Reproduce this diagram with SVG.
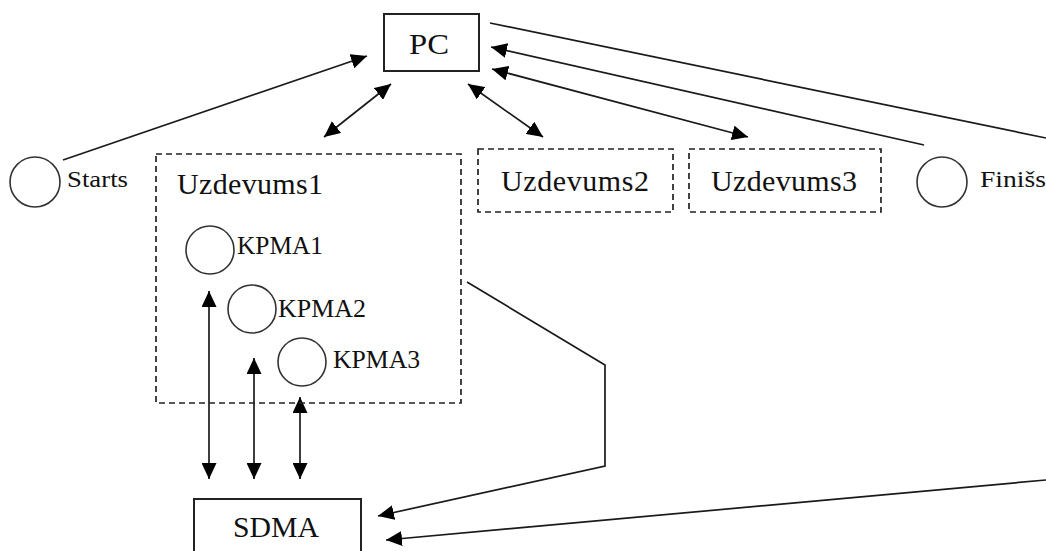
<svg xmlns="http://www.w3.org/2000/svg" width="1046" height="551" viewBox="0 0 1046 551">
<style>
.box{fill:#fff;stroke:#222;stroke-width:2}
.dbox{fill:none;stroke:#222;stroke-width:1.7;stroke-dasharray:6 4}
.circ{fill:#fff;stroke:#333;stroke-width:1.6}
.ln{fill:none;stroke:#1a1a1a;stroke-width:1.7}
.t{font-family:"Liberation Serif","Times New Roman",serif;fill:#111}
.big{font-size:30px}
.mid{font-size:26px}
.sm{font-size:23px}
</style>
<defs>
<marker id="ah" markerUnits="userSpaceOnUse" markerWidth="17" markerHeight="15" refX="16" refY="7.5" orient="auto-start-reverse" viewBox="0 0 17 15">
<path d="M0,0 L16,7.5 L0,15 Z" fill="#000"/>
</marker>
</defs>
<rect width="1046" height="551" fill="#fff"/>
<g id="connectors">
<line class="ln" x1="63" y1="160" x2="367" y2="56" marker-end="url(#ah)"/>
<line class="ln" x1="324" y1="137" x2="391" y2="84" marker-start="url(#ah)" marker-end="url(#ah)"/>
<line class="ln" x1="543" y1="137" x2="468" y2="84" marker-start="url(#ah)" marker-end="url(#ah)"/>
<line class="ln" x1="748" y1="137" x2="492" y2="69" marker-start="url(#ah)" marker-end="url(#ah)"/>
<line class="ln" x1="924" y1="145" x2="491" y2="47" marker-end="url(#ah)"/>
<line class="ln" x1="490" y1="23" x2="1046" y2="138"/>
<line class="ln" x1="209" y1="291" x2="209" y2="479" marker-start="url(#ah)" marker-end="url(#ah)"/>
<line class="ln" x1="254" y1="358" x2="254" y2="479" marker-start="url(#ah)" marker-end="url(#ah)"/>
<line class="ln" x1="300" y1="397" x2="300" y2="479" marker-start="url(#ah)" marker-end="url(#ah)"/>
<polyline class="ln" points="467,282 605,365 605,466 378,516" marker-end="url(#ah)"/>
<line class="ln" x1="1046" y1="480" x2="386" y2="540" marker-end="url(#ah)"/>
</g>
<g id="pc">
<rect class="box" x="384" y="14" width="95" height="57"/>
<text class="t big" x="409" y="54" textLength="40" lengthAdjust="spacingAndGlyphs">PC</text>
</g>
<g id="starts">
<circle class="circ" cx="35" cy="182" r="25"/>
<text class="t sm" x="67" y="187" textLength="61" lengthAdjust="spacingAndGlyphs">Starts</text>
</g>
<g id="uzdevums1">
<rect class="dbox" x="156" y="154" width="305" height="249"/>
<text class="t big" x="177" y="194" textLength="146" lengthAdjust="spacing">Uzdevums1</text>
</g>
<g id="kpma1">
<circle class="circ" cx="210" cy="250" r="24"/>
<text class="t mid" x="237" y="254" textLength="86" lengthAdjust="spacingAndGlyphs">KPMA1</text>
</g>
<g id="kpma2">
<circle class="circ" cx="252" cy="309" r="24"/>
<text class="t mid" x="278" y="317" textLength="88" lengthAdjust="spacingAndGlyphs">KPMA2</text>
</g>
<g id="kpma3">
<circle class="circ" cx="302" cy="362" r="24"/>
<text class="t mid" x="333" y="368" textLength="87" lengthAdjust="spacingAndGlyphs">KPMA3</text>
</g>
<g id="uzdevums2">
<rect class="dbox" x="478" y="149" width="195" height="63"/>
<text class="t big" x="501" y="191" textLength="148" lengthAdjust="spacing">Uzdevums2</text>
</g>
<g id="uzdevums3">
<rect class="dbox" x="689" y="149" width="192" height="63"/>
<text class="t big" x="711" y="191" textLength="146" lengthAdjust="spacing">Uzdevums3</text>
</g>
<g id="finiss">
<circle class="circ" cx="942" cy="182" r="25"/>
<text class="t sm" x="980" y="187" textLength="66" lengthAdjust="spacingAndGlyphs">Finišs</text>
</g>
<g id="sdma">
<rect class="box" x="194" y="499" width="167" height="70"/>
<text class="t big" x="233" y="537" textLength="86" lengthAdjust="spacingAndGlyphs">SDMA</text>
</g>
</svg>
